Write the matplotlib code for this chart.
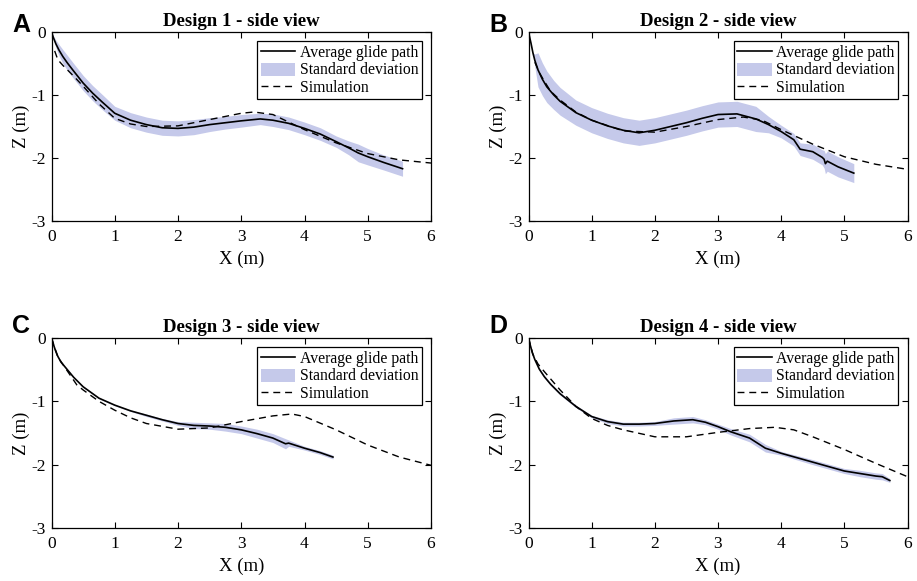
import numpy as np
import matplotlib.pyplot as plt
from matplotlib.patches import Patch
from matplotlib.lines import Line2D

plt.rcParams['font.family'] = ['Liberation Serif', 'DejaVu Serif']
plt.rcParams['axes.unicode_minus'] = False

# ---- Design 1 ----
x1 = [0, 0.03, 0.07, 0.12, 0.18, 0.25, 0.35, 0.5, 0.65, 0.8, 1.0, 1.25, 1.5, 1.75, 2.0, 2.25, 2.5, 2.75, 3.0, 3.3, 3.5, 3.75, 4.0, 4.25, 4.5, 4.7, 4.85, 5.0, 5.25, 5.55]
z1 = [0, -0.09, -0.19, -0.29, -0.39, -0.49, -0.62, -0.81, -0.97, -1.11, -1.29, -1.40, -1.47, -1.52, -1.53, -1.51, -1.47, -1.44, -1.41, -1.38, -1.40, -1.45, -1.53, -1.62, -1.74, -1.84, -1.92, -1.98, -2.07, -2.17]
sd1 = [0, 0.03, 0.06, 0.09, 0.11, 0.12, 0.12, 0.12, 0.12, 0.12, 0.11, 0.12, 0.12, 0.12, 0.12, 0.12, 0.11, 0.1, 0.1, 0.09, 0.1, 0.1, 0.1, 0.1, 0.09, 0.11, 0.14, 0.13, 0.12, 0.12]
xs1 = [0.05, 0.1, 0.18, 0.25, 0.35, 0.5, 0.75, 1.0, 1.25, 1.5, 2.0, 2.5, 3.0, 3.2, 3.5, 4.0, 4.5, 5.0, 5.5, 6.0]
zs1 = [-0.3, -0.44, -0.53, -0.6, -0.7, -0.86, -1.14, -1.37, -1.46, -1.50, -1.49, -1.39, -1.29, -1.27, -1.31, -1.55, -1.76, -1.93, -2.03, -2.08]

# ---- Design 2 ----
x2 = [0, 0.04, 0.07, 0.1, 0.15, 0.22, 0.29, 0.4, 0.5, 0.75, 1.0, 1.25, 1.5, 1.75, 2.0, 2.25, 2.5, 2.75, 3.0, 3.3, 3.6, 3.8, 4.0, 4.2, 4.3, 4.5, 4.65, 4.68, 4.70, 4.73, 4.9, 5.15]
z2 = [0, -0.18, -0.33, -0.45, -0.6, -0.75, -0.87, -1.0, -1.10, -1.28, -1.40, -1.49, -1.56, -1.60, -1.56, -1.50, -1.44, -1.37, -1.31, -1.30, -1.38, -1.47, -1.58, -1.71, -1.86, -1.90, -1.99, -2.02, -2.09, -2.05, -2.14, -2.24]
sd2 = [0, 0, 0, 0.1, 0.27, 0.26, 0.25, 0.23, 0.22, 0.2, 0.2, 0.2, 0.2, 0.2, 0.2, 0.2, 0.2, 0.2, 0.2, 0.2, 0.2, 0.13, 0.1, 0.1, 0.1, 0.12, 0.12, 0.14, 0.16, 0.16, 0.16, 0.15]
xs2 = [0.1, 0.18, 0.25, 0.35, 0.5, 0.75, 1.0, 1.5, 2.0, 2.5, 3.0, 3.4, 3.7, 4.0, 4.5, 5.0, 5.5, 6.0]
zs2 = [-0.48, -0.66, -0.78, -0.94, -1.08, -1.27, -1.40, -1.57, -1.59, -1.50, -1.39, -1.35, -1.40, -1.55, -1.78, -1.98, -2.10, -2.18]

# ---- Design 3 ----
x3 = [0, 0.03, 0.06, 0.1, 0.15, 0.25, 0.35, 0.5, 0.75, 1.0, 1.25, 1.5, 1.75, 2.0, 2.25, 2.5, 2.75, 3.0, 3.25, 3.5, 3.7, 3.75, 4.0, 4.25, 4.45]
z3 = [0, -0.1, -0.19, -0.29, -0.38, -0.50, -0.62, -0.77, -0.95, -1.06, -1.15, -1.22, -1.29, -1.35, -1.38, -1.39, -1.41, -1.45, -1.51, -1.58, -1.67, -1.66, -1.74, -1.81, -1.88]
sd3 = [0, 0.01, 0.01, 0.01, 0.01, 0.01, 0.01, 0.01, 0.01, 0.01, 0.01, 0.02, 0.02, 0.03, 0.05, 0.05, 0.06, 0.06, 0.07, 0.07, 0.08, 0.05, 0.03, 0.03, 0.03]
xs3 = [0.0, 0.1, 0.25, 0.4, 0.5, 0.75, 1.0, 1.25, 1.5, 2.0, 2.5, 3.0, 3.5, 3.8, 4.0, 4.5, 5.0, 5.5, 6.0]
zs3 = [0, -0.3, -0.52, -0.74, -0.82, -1.0, -1.14, -1.26, -1.35, -1.44, -1.42, -1.32, -1.23, -1.20, -1.24, -1.45, -1.69, -1.88, -2.01]

# ---- Design 4 ----
x4 = [0, 0.03, 0.06, 0.1, 0.17, 0.25, 0.35, 0.5, 0.75, 1.0, 1.25, 1.5, 1.75, 2.0, 2.3, 2.6, 2.8, 3.0, 3.2, 3.5, 3.75, 4.0, 4.5, 5.0, 5.25, 5.5, 5.6, 5.72]
z4 = [0, -0.12, -0.23, -0.34, -0.49, -0.61, -0.73, -0.88, -1.08, -1.24, -1.32, -1.36, -1.36, -1.35, -1.31, -1.29, -1.33, -1.40, -1.48, -1.58, -1.74, -1.82, -1.96, -2.10, -2.14, -2.18, -2.19, -2.25]
sd4 = [0, 0.01, 0.01, 0.01, 0.02, 0.02, 0.02, 0.02, 0.02, 0.02, 0.03, 0.03, 0.03, 0.03, 0.05, 0.05, 0.04, 0.04, 0.05, 0.06, 0.06, 0.03, 0.04, 0.04, 0.05, 0.05, 0.05, 0.03]
xs4 = [0.0, 0.07, 0.15, 0.25, 0.5, 0.75, 1.0, 1.25, 1.5, 2.0, 2.5, 3.0, 3.5, 3.9, 4.2, 4.5, 5.0, 5.5, 6.0]
zs4 = [0, -0.26, -0.41, -0.53, -0.82, -1.08, -1.27, -1.38, -1.45, -1.56, -1.56, -1.49, -1.43, -1.41, -1.45, -1.56, -1.76, -1.98, -2.19]

titles = ['Design 1 - side view', 'Design 2 - side view', 'Design 3 - side view', 'Design 4 - side view']
letters = ['A', 'B', 'C', 'D']
avg_x = [x1, x2, x3, x4]
avg_z = [z1, z2, z3, z4]
std_z = [sd1, sd2, sd3, sd4]
sim_x = [xs1, xs2, xs3, xs4]
sim_z = [zs1, zs2, zs3, zs4]

band_color = '#c5c9ea'
dash = (0, (5, 3.5))

fig = plt.figure(figsize=(9.17, 5.81), dpi=100)
W, H = 917, 581
# axes boxes in pixels: left, top, right, bottom
boxes = [(51.5, 32, 431, 221), (528.5, 32, 907.5, 221),
         (51.5, 338, 431, 528), (528.5, 338, 907.5, 528)]
letter_pos = [(12, 32), (489, 32), (12, 333), (489, 333)]

for i in range(4):
    l, t, r, b = boxes[i]
    ax = fig.add_axes([l / W, 1 - b / H, (r - l) / W, (b - t) / H])
    x = np.array(avg_x[i])
    z = np.array(avg_z[i])
    s = np.array(std_z[i])
    ax.fill_between(x, z - s, z + s, color=band_color, lw=0, zorder=1)
    ax.plot(sim_x[i], sim_z[i], color='black', ls=dash, lw=1.0, zorder=2)
    ax.plot(x, z, color='black', lw=1.2, zorder=3)

    ax.set_xlim(0, 6)
    ax.set_ylim(-3, 0)
    ax.set_xticks(range(0, 7))
    ax.set_yticks([-3, -2, -1, 0])
    ax.tick_params(direction='in', top=True, right=True, length=4, width=0.8,
                   labelsize=12.5)
    ax.tick_params(axis='x', pad=5.5)
    ax.tick_params(axis='y', pad=4)
    for sp in ax.spines.values():
        sp.set_linewidth(0.9)
    ax.set_xlabel('X (m)', fontsize=13.5, labelpad=4)
    ax.set_ylabel('Z (m)', fontsize=13.5, labelpad=1)
    ax.set_title(titles[i], fontsize=13.5, fontweight='bold', pad=4)

    handles = [Line2D([], [], color='black', lw=1.2),
               Patch(facecolor=band_color, edgecolor='none'),
               Line2D([], [], color='black', ls=dash, lw=1.0)]
    leg = ax.legend(handles, ['Average glide path', 'Standard deviation', 'Simulation'],
                    loc='upper right', fontsize=11.3, frameon=True, fancybox=False,
                    edgecolor='black', framealpha=1, borderpad=0.2,
                    labelspacing=0.12, handlelength=2.2, handleheight=0.9,
                    handletextpad=0.3, borderaxespad=0.6)
    leg.get_frame().set_linewidth(0.9)

    lx, ly = letter_pos[i]
    fig.text(lx / W, 1 - ly / H, letters[i], fontsize=18, fontweight='bold',
             family=['Liberation Sans', 'DejaVu Sans'], va='baseline', ha='left')

fig.savefig('out.png', dpi=100)
